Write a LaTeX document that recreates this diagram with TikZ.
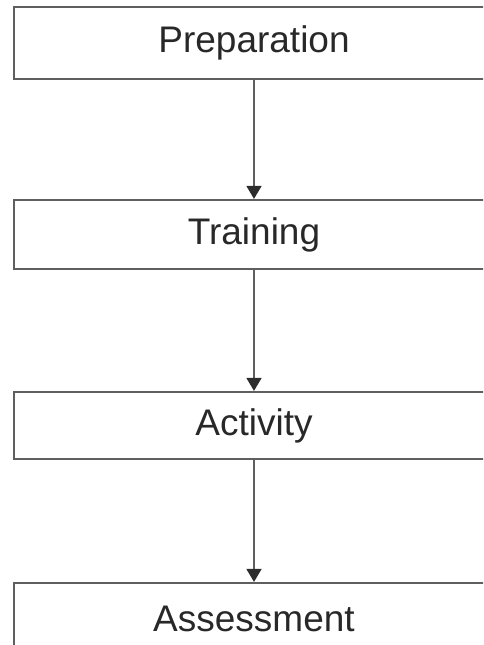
\documentclass[tikz,border=0pt]{standalone}
\usepackage{fontspec}
\setmainfont{Liberation Sans}
\usetikzlibrary{arrows.meta}
\definecolor{boxline}{RGB}{95,95,95}
\definecolor{tipfill}{RGB}{45,45,45}
\definecolor{labeltext}{RGB}{40,40,40}
\tikzset{
  stage/.style={draw=boxline, line width=2.2pt, text=labeltext,
    minimum width=480pt, inner sep=0pt,
    font=\fontsize{37}{40}\selectfont},
  flow/.style={draw=boxline, line width=1.6pt,
    -{Triangle[width=15pt,length=13pt,color=tipfill]}}
}
\begin{document}
\begin{tikzpicture}[x=1pt, y=-1pt]
    \useasboundingbox (0, 0) rectangle (483, 645);
    \clip (0, 0) rectangle (483, 645);

    \node[stage, minimum height=72pt] (prep) at (254, 43) {Preparation};
    \node[stage, minimum height=69pt] (train) at (254, 234.5) {Training};
    \node[stage, minimum height=67pt] (act) at (254, 425.5) {Activity};
    \node[stage, minimum height=72pt] (assess) at (254, 619) {Assessment};

    \draw[flow] (prep) -- (train);
    \draw[flow] (train) -- (act);
    \draw[flow] (act) -- (assess);
\end{tikzpicture}
\end{document}
